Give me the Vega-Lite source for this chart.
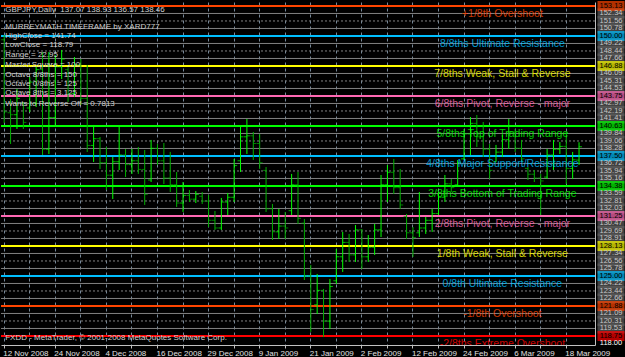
{
  "$schema": "https://vega.github.io/schema/vega-lite/v6.json",
  "padding": 0,
  "background": "#000000",
  "spacing": 0,
  "bounds": "flush",
  "config": {"view": {"stroke": null}, "font": "Liberation Sans"},
  "datasets": {
    "bars": [
      {"d":"12 Nov 2008","o":149.6,"h":150.1,"l":140.94,"c":142.1},
      {"d":"13 Nov 2008","o":142.0,"h":143.44,"l":138.75,"c":141.8},
      {"d":"14 Nov 2008","o":141.8,"h":144.48,"l":140.31,"c":143.5},
      {"d":"17 Nov 2008","o":143.0,"h":143.13,"l":140.31,"c":141.0},
      {"d":"18 Nov 2008","o":142.5,"h":145.73,"l":142.08,"c":145.2},
      {"d":"19 Nov 2008","o":143.0,"h":146.77,"l":142.6,"c":146.5},
      {"d":"20 Nov 2008","o":146.5,"h":148.33,"l":137.6,"c":138.2},
      {"d":"21 Nov 2008","o":138.2,"h":148.33,"l":137.71,"c":141.5},
      {"d":"24 Nov 2008","o":141.5,"h":148.02,"l":140.73,"c":146.8},
      {"d":"25 Nov 2008","o":146.8,"h":148.54,"l":145.52,"c":147.6},
      {"d":"26 Nov 2008","o":146.5,"h":146.77,"l":143.13,"c":144.0},
      {"d":"27 Nov 2008","o":144.0,"h":147.81,"l":143.65,"c":147.0},
      {"d":"28 Nov 2008","o":147.0,"h":147.6,"l":142.81,"c":143.5},
      {"d":"1 Dec 2008","o":143.5,"h":146.98,"l":137.92,"c":138.6},
      {"d":"2 Dec 2008","o":138.6,"h":140.73,"l":136.88,"c":139.3},
      {"d":"3 Dec 2008","o":139.3,"h":139.48,"l":136.15,"c":136.8},
      {"d":"4 Dec 2008","o":136.8,"h":138.44,"l":133.96,"c":135.5},
      {"d":"5 Dec 2008","o":135.5,"h":137.4,"l":133.02,"c":136.9},
      {"d":"8 Dec 2008","o":136.9,"h":140.52,"l":136.04,"c":137.6},
      {"d":"9 Dec 2008","o":137.6,"h":138.23,"l":135.31,"c":136.6},
      {"d":"10 Dec 2008","o":136.6,"h":138.23,"l":135.63,"c":137.0},
      {"d":"11 Dec 2008","o":137.0,"h":138.44,"l":135.63,"c":136.1},
      {"d":"12 Dec 2008","o":136.1,"h":138.13,"l":132.4,"c":133.5},
      {"d":"15 Dec 2008","o":135.0,"h":139.17,"l":134.79,"c":138.3},
      {"d":"16 Dec 2008","o":138.3,"h":138.75,"l":136.56,"c":137.0},
      {"d":"17 Dec 2008","o":137.0,"h":138.85,"l":134.58,"c":135.2},
      {"d":"18 Dec 2008","o":135.2,"h":137.92,"l":133.75,"c":134.5},
      {"d":"19 Dec 2008","o":134.5,"h":135.83,"l":132.19,"c":132.6},
      {"d":"22 Dec 2008","o":132.6,"h":134.79,"l":131.67,"c":133.4},
      {"d":"23 Dec 2008","o":133.4,"h":133.96,"l":132.71,"c":133.0},
      {"d":"24 Dec 2008","o":133.0,"h":133.85,"l":132.6,"c":133.5},
      {"d":"26 Dec 2008","o":133.3,"h":133.75,"l":132.5,"c":132.8},
      {"d":"29 Dec 2008","o":132.8,"h":133.44,"l":130.1,"c":130.8},
      {"d":"30 Dec 2008","o":130.8,"h":131.77,"l":129.79,"c":130.0},
      {"d":"31 Dec 2008","o":130.0,"h":133.13,"l":129.79,"c":132.7},
      {"d":"2 Jan 2009","o":132.7,"h":133.65,"l":131.35,"c":133.2},
      {"d":"5 Jan 2009","o":133.2,"h":137.19,"l":132.71,"c":136.5},
      {"d":"6 Jan 2009","o":137.0,"h":140.63,"l":135.83,"c":139.5},
      {"d":"7 Jan 2009","o":139.5,"h":141.35,"l":137.71,"c":139.6},
      {"d":"8 Jan 2009","o":139.6,"h":140.0,"l":137.08,"c":138.8},
      {"d":"9 Jan 2009","o":138.8,"h":139.79,"l":136.15,"c":136.8},
      {"d":"12 Jan 2009","o":136.0,"h":136.35,"l":131.67,"c":132.0},
      {"d":"13 Jan 2009","o":132.0,"h":132.5,"l":128.75,"c":129.6},
      {"d":"14 Jan 2009","o":129.6,"h":131.98,"l":128.85,"c":130.2},
      {"d":"15 Jan 2009","o":130.2,"h":131.67,"l":128.85,"c":130.0},
      {"d":"16 Jan 2009","o":131.8,"h":135.63,"l":131.35,"c":134.5},
      {"d":"19 Jan 2009","o":134.5,"h":135.83,"l":130.42,"c":131.0},
      {"d":"20 Jan 2009","o":130.5,"h":130.94,"l":124.58,"c":125.0},
      {"d":"21 Jan 2009","o":125.0,"h":126.15,"l":119.17,"c":121.5},
      {"d":"22 Jan 2009","o":122.0,"h":125.21,"l":121.04,"c":123.5},
      {"d":"23 Jan 2009","o":123.5,"h":123.65,"l":118.65,"c":120.3},
      {"d":"26 Jan 2009","o":120.3,"h":124.69,"l":119.48,"c":123.9},
      {"d":"27 Jan 2009","o":124.5,"h":127.81,"l":124.17,"c":127.0},
      {"d":"28 Jan 2009","o":127.0,"h":129.58,"l":125.42,"c":128.5},
      {"d":"29 Jan 2009","o":128.5,"h":129.38,"l":126.46,"c":127.2},
      {"d":"30 Jan 2009","o":127.2,"h":130.31,"l":126.46,"c":129.8},
      {"d":"2 Feb 2009","o":129.8,"h":129.9,"l":125.73,"c":127.0},
      {"d":"3 Feb 2009","o":127.0,"h":129.27,"l":126.46,"c":128.0},
      {"d":"4 Feb 2009","o":128.0,"h":130.42,"l":127.19,"c":129.8},
      {"d":"5 Feb 2009","o":129.8,"h":135.52,"l":129.06,"c":134.5},
      {"d":"6 Feb 2009","o":134.5,"h":136.56,"l":132.71,"c":135.8},
      {"d":"9 Feb 2009","o":135.8,"h":137.19,"l":133.54,"c":134.2},
      {"d":"10 Feb 2009","o":134.2,"h":136.15,"l":131.98,"c":132.4},
      {"d":"11 Feb 2009","o":131.2,"h":131.46,"l":128.85,"c":129.5},
      {"d":"12 Feb 2009","o":129.5,"h":130.1,"l":126.98,"c":129.0},
      {"d":"13 Feb 2009","o":129.5,"h":133.75,"l":129.06,"c":130.0},
      {"d":"16 Feb 2009","o":130.0,"h":131.15,"l":129.38,"c":130.8},
      {"d":"17 Feb 2009","o":130.8,"h":131.98,"l":129.58,"c":131.5},
      {"d":"18 Feb 2009","o":131.5,"h":133.75,"l":131.35,"c":133.2},
      {"d":"19 Feb 2009","o":133.2,"h":135.52,"l":132.71,"c":134.6},
      {"d":"20 Feb 2009","o":134.6,"h":135.1,"l":133.75,"c":134.2},
      {"d":"23 Feb 2009","o":134.5,"h":137.08,"l":134.48,"c":136.8},
      {"d":"24 Feb 2009","o":137.2,"h":140.31,"l":137.08,"c":139.8},
      {"d":"25 Feb 2009","o":139.8,"h":141.56,"l":137.6,"c":140.9},
      {"d":"26 Feb 2009","o":140.9,"h":141.77,"l":138.44,"c":139.5},
      {"d":"27 Feb 2009","o":139.5,"h":141.04,"l":137.4,"c":138.2},
      {"d":"2 Mar 2009","o":138.2,"h":138.75,"l":135.1,"c":136.0},
      {"d":"3 Mar 2009","o":136.9,"h":138.65,"l":136.88,"c":137.9},
      {"d":"4 Mar 2009","o":137.9,"h":139.69,"l":137.4,"c":139.2},
      {"d":"5 Mar 2009","o":139.2,"h":141.35,"l":138.23,"c":140.0},
      {"d":"6 Mar 2009","o":140.0,"h":140.31,"l":137.92,"c":138.3},
      {"d":"9 Mar 2009","o":138.3,"h":139.17,"l":136.88,"c":137.2},
      {"d":"10 Mar 2009","o":136.2,"h":136.35,"l":135.0,"c":135.6},
      {"d":"11 Mar 2009","o":135.6,"h":136.04,"l":134.79,"c":135.2},
      {"d":"12 Mar 2009","o":135.2,"h":135.63,"l":131.35,"c":134.9},
      {"d":"13 Mar 2009","o":135.3,"h":138.23,"l":135.1,"c":137.6},
      {"d":"16 Mar 2009","o":137.6,"h":139.17,"l":136.04,"c":138.2},
      {"d":"17 Mar 2009","o":138.2,"h":138.96,"l":137.71,"c":138.5},
      {"d":"18 Mar 2009","o":138.5,"h":140.0,"l":134.58,"c":136.2},
      {"d":"19 Mar 2009","o":136.2,"h":137.92,"l":135.1,"c":137.1},
      {"d":"20 Mar 2009","o":137.07,"h":138.93,"l":136.57,"c":138.46}
    ],
    "levels": [
      {"p":153.125,"name":"+1/8","t":"+1/8th Overshoot"},
      {"p":150,"name":"8/8","t":"8/8ths Ultimate Resistance"},
      {"p":146.875,"name":"7/8","t":"7/8ths Weak, Stall & Reverse"},
      {"p":143.75,"name":"6/8","t":"6/8ths Pivot, Reverse - major"},
      {"p":140.625,"name":"5/8","t":"5/8ths Top of Trading Range"},
      {"p":137.5,"name":"4/8","t":"4/8ths Major Support/Resistance"},
      {"p":134.375,"name":"3/8","t":"3/8ths Bottom of Trading Range"},
      {"p":131.25,"name":"2/8","t":"2/8ths Pivot, Reverse - major"},
      {"p":128.125,"name":"1/8","t":"1/8th Weak, Stall & Reverse"},
      {"p":125,"name":"0/8","t":"0/8th Ultimate Resistance"},
      {"p":121.875,"name":"-1/8","t":"-1/8th Overshoot"},
      {"p":118.75,"name":"-2/8","t":"-2/8ths Extreme Overshoot"}
    ],
    "sublevels": [
      {"p":119.53125,"k":"q"},{"p":120.3125,"k":"h"},{"p":121.09375,"k":"q"},
      {"p":122.65625,"k":"q"},{"p":123.4375,"k":"h"},{"p":124.21875,"k":"q"},
      {"p":125.78125,"k":"q"},{"p":126.5625,"k":"h"},{"p":127.34375,"k":"q"},
      {"p":128.90625,"k":"q"},{"p":129.6875,"k":"h"},{"p":130.46875,"k":"q"},
      {"p":132.03125,"k":"q"},{"p":132.8125,"k":"h"},{"p":133.59375,"k":"q"},
      {"p":135.15625,"k":"q"},{"p":135.9375,"k":"h"},{"p":136.71875,"k":"q"},
      {"p":138.28125,"k":"q"},{"p":139.0625,"k":"h"},{"p":139.84375,"k":"q"},
      {"p":141.40625,"k":"q"},{"p":142.1875,"k":"h"},{"p":142.96875,"k":"q"},
      {"p":144.53125,"k":"q"},{"p":145.3125,"k":"h"},{"p":146.09375,"k":"q"},
      {"p":147.65625,"k":"q"},{"p":148.4375,"k":"h"},{"p":149.21875,"k":"q"},
      {"p":150.78125,"k":"q"},{"p":151.5625,"k":"h"},{"p":152.34375,"k":"q"}
    ],
    "info": [
      {"d":"12 Nov 2008","p":152.71,"t":"GBPJPY,Daily\u00a0 137.07 138.93 136.57 138.46"},
      {"d":"12 Nov 2008","p":150.94,"t":"MURREYMATH TIMEFRAME by XARD777"},
      {"d":"12 Nov 2008","p":150.0,"t":"HighClose = 141.74"},
      {"d":"12 Nov 2008","p":149.06,"t":"LowClose = 118.79"},
      {"d":"12 Nov 2008","p":148.02,"t":"Range = 22.95"},
      {"d":"12 Nov 2008","p":146.98,"t":"Master Square = 100"},
      {"d":"12 Nov 2008","p":145.94,"t":"Octave 8/8ths = 150"},
      {"d":"12 Nov 2008","p":145.0,"t":"Octave 0/8ths = 125"},
      {"d":"12 Nov 2008","p":144.06,"t":"Octave 8ths = 3.125"},
      {"d":"12 Nov 2008","p":142.92,"t":"Wants to Reverse Off = 0.7813"},
      {"d":"12 Nov 2008","p":118.54,"t":"FXDD - MetaTrader, \u00a9 2001-2008 MetaQuotes Software Corp."}
    ],
    "bottom": [{"p": 118}]
  },
  "hconcat": [
    {
      "width": 594,
      "height": 343,
      "layer": [
        {
          "data": {"name": "sublevels"},
          "mark": {"type": "rule", "color": "#808080", "strokeWidth": 1},
          "encoding": {
            "y": {
              "field": "p", "type": "quantitative",
              "scale": {"domain": [117.81, 153.54], "nice": false, "zero": false},
              "axis": {"orient": "right", "title": null, "grid": false, "labels": false, "ticks": false, "domainColor": "#c0c0c0", "minExtent": 0, "maxExtent": 0, "offset": 0}
            },
            "strokeDash": {"field": "k", "type": "nominal", "scale": {"domain": ["q", "h"], "range": [[1, 0], [2, 2]]}, "legend": null}
          }
        },
        {
          "data": {"name": "levels"},
          "mark": {"type": "rule", "strokeWidth": 2},
          "encoding": {
            "y": {"field": "p", "type": "quantitative"},
            "color": {"field": "name", "type": "nominal", "legend": null,
              "scale": {"domain": ["+1/8","8/8","7/8","6/8","5/8","4/8","3/8","2/8","1/8","0/8","-1/8","-2/8"],
                        "range": ["#ff4500","#00bfff","#ffff00","#ff69b4","#00ff00","#00bfff","#00ff00","#ff69b4","#ffff00","#00bfff","#ff4500","#ff0000"]}}
          }
        },
        {
          "data": {"name": "bars"},
          "mark": {"type": "rule", "strokeWidth": 1},
          "encoding": {
            "x": {
              "field": "d", "type": "ordinal",
              "scale": {"type": "band", "paddingInner": 0, "paddingOuter": 1, "align": 0,
                "domain": ["12 Nov 2008","13 Nov 2008","14 Nov 2008","17 Nov 2008","18 Nov 2008","19 Nov 2008","20 Nov 2008","21 Nov 2008","24 Nov 2008","25 Nov 2008","26 Nov 2008","27 Nov 2008","28 Nov 2008","1 Dec 2008","2 Dec 2008","3 Dec 2008","4 Dec 2008","5 Dec 2008","8 Dec 2008","9 Dec 2008","10 Dec 2008","11 Dec 2008","12 Dec 2008","15 Dec 2008","16 Dec 2008","17 Dec 2008","18 Dec 2008","19 Dec 2008","22 Dec 2008","23 Dec 2008","24 Dec 2008","26 Dec 2008","29 Dec 2008","30 Dec 2008","31 Dec 2008","2 Jan 2009","5 Jan 2009","6 Jan 2009","7 Jan 2009","8 Jan 2009","9 Jan 2009","12 Jan 2009","13 Jan 2009","14 Jan 2009","15 Jan 2009","16 Jan 2009","19 Jan 2009","20 Jan 2009","21 Jan 2009","22 Jan 2009","23 Jan 2009","26 Jan 2009","27 Jan 2009","28 Jan 2009","29 Jan 2009","30 Jan 2009","2 Feb 2009","3 Feb 2009","4 Feb 2009","5 Feb 2009","6 Feb 2009","9 Feb 2009","10 Feb 2009","11 Feb 2009","12 Feb 2009","13 Feb 2009","16 Feb 2009","17 Feb 2009","18 Feb 2009","19 Feb 2009","20 Feb 2009","23 Feb 2009","24 Feb 2009","25 Feb 2009","26 Feb 2009","27 Feb 2009","2 Mar 2009","3 Mar 2009","4 Mar 2009","5 Mar 2009","6 Mar 2009","9 Mar 2009","10 Mar 2009","11 Mar 2009","12 Mar 2009","13 Mar 2009","16 Mar 2009","17 Mar 2009","18 Mar 2009","19 Mar 2009","20 Mar 2009"]},
              "axis": {
                "title": null, "orient": "bottom",
                "values": ["12 Nov 2008","18 Nov 2008","24 Nov 2008","28 Nov 2008","4 Dec 2008","10 Dec 2008","16 Dec 2008","22 Dec 2008","29 Dec 2008","5 Jan 2009","9 Jan 2009","15 Jan 2009","21 Jan 2009","27 Jan 2009","2 Feb 2009","6 Feb 2009","12 Feb 2009","18 Feb 2009","24 Feb 2009","2 Mar 2009","6 Mar 2009","12 Mar 2009","18 Mar 2009"],
                "labelExpr": "indexof(['18 Nov 2008','28 Nov 2008','10 Dec 2008','22 Dec 2008','5 Jan 2009','15 Jan 2009','27 Jan 2009','6 Feb 2009','18 Feb 2009','2 Mar 2009','12 Mar 2009'], datum.value) >= 0 ? '' : datum.value",
                "labelAngle": 0, "labelAlign": "left", "labelBaseline": "top",
                "labelFont": "Liberation Sans", "labelFontSize": 8, "labelColor": "#e0e0e0",
                "labelPadding": 1, "labelOverlap": false, "labelBound": false, "labelFlush": false,
                "labelOffset": -1,
                "tickSize": 3, "tickColor": "#c0c0c0", "domainColor": "#c0c0c0",
                "grid": true, "gridColor": "#778899", "gridDash": [3, 3], "gridWidth": 1,
                "bandPosition": 0.5
              }
            },
            "y": {"field": "h", "type": "quantitative"},
            "y2": {"field": "l"},
            "color": {"condition": {"test": "datum.c < datum.o", "value": "#00b000"}, "value": "#00ff00"}
          }
        },
        {
          "data": {"name": "bars"},
          "mark": {"type": "tick", "size": 3, "thickness": 1, "xOffset": -1.5},
          "encoding": {
            "x": {"field": "d", "type": "ordinal"},
            "y": {"field": "o", "type": "quantitative"},
            "color": {"condition": {"test": "datum.c < datum.o", "value": "#00b000"}, "value": "#00ff00"}
          }
        },
        {
          "data": {"name": "bars"},
          "mark": {"type": "tick", "size": 3, "thickness": 1, "xOffset": 1.5},
          "encoding": {
            "x": {"field": "d", "type": "ordinal"},
            "y": {"field": "c", "type": "quantitative"},
            "color": {"condition": {"test": "datum.c < datum.o", "value": "#00b000"}, "value": "#00ff00"}
          }
        },
        {
          "data": {"name": "levels"},
          "mark": {"type": "text", "align": "center", "baseline": "middle", "dy": 8, "fontSize": 10.5, "font": "Liberation Sans", "clip": true, "opacity": 0.8},
          "encoding": {
            "x": {"datum": "4 Mar 2009", "type": "ordinal"},
            "y": {"field": "p", "type": "quantitative"},
            "text": {"field": "t"},
            "color": {"field": "name", "type": "nominal", "legend": null}
          }
        },
        {
          "data": {"name": "info"},
          "mark": {"type": "text", "align": "left", "baseline": "middle", "dx": 1, "fontSize": 8, "font": "Liberation Sans", "color": "#d0d0d0"},
          "encoding": {
            "x": {"field": "d", "type": "ordinal"},
            "y": {"field": "p", "type": "quantitative"},
            "text": {"field": "t"}
          }
        }
      ]
    },
    {
      "width": 31,
      "height": 343,
      "layer": [
        {
          "data": {"name": "sublevels"},
          "mark": {"type": "tick", "orient": "horizontal", "size": 27, "thickness": 10, "color": "#5e5e5e", "xOffset": 0.5},
          "encoding": {
            "y": {"field": "p", "type": "quantitative", "scale": {"domain": [117.81, 153.54], "nice": false, "zero": false}, "axis": null}
          }
        },
        {
          "data": {"name": "levels"},
          "mark": {"type": "tick", "orient": "horizontal", "size": 27, "thickness": 10, "xOffset": 0.5},
          "encoding": {
            "y": {"field": "p", "type": "quantitative"},
            "color": {"field": "name", "type": "nominal", "legend": null,
              "scale": {"domain": ["+1/8","8/8","7/8","6/8","5/8","4/8","3/8","2/8","1/8","0/8","-1/8","-2/8"],
                        "range": ["#ff4500","#00bfff","#ffff00","#ff69b4","#00ff00","#00bfff","#00ff00","#ff69b4","#ffff00","#00bfff","#ff4500","#ff0000"]}}
          }
        },
        {
          "data": {"name": "sublevels"},
          "mark": {"type": "text", "align": "center", "baseline": "middle", "fontSize": 7.5, "font": "Liberation Sans", "color": "#c8c8c8", "dx": 0.5},
          "encoding": {
            "y": {"field": "p", "type": "quantitative"},
            "text": {"field": "p", "type": "quantitative", "format": ".2f"}
          }
        },
        {
          "data": {"name": "levels"},
          "mark": {"type": "text", "align": "center", "baseline": "middle", "fontSize": 7.5, "font": "Liberation Sans", "color": "#000000", "dx": 0.5},
          "encoding": {
            "y": {"field": "p", "type": "quantitative"},
            "text": {"field": "p", "type": "quantitative", "format": ".2f"}
          }
        },
        {
          "data": {"name": "bottom"},
          "mark": {"type": "text", "align": "center", "baseline": "middle", "fontSize": 7.5, "font": "Liberation Sans", "color": "#ffffff", "dx": 0.5},
          "encoding": {
            "y": {"field": "p", "type": "quantitative"},
            "text": {"field": "p", "type": "quantitative", "format": ".2f"}
          }
        }
      ]
    }
  ]
}
